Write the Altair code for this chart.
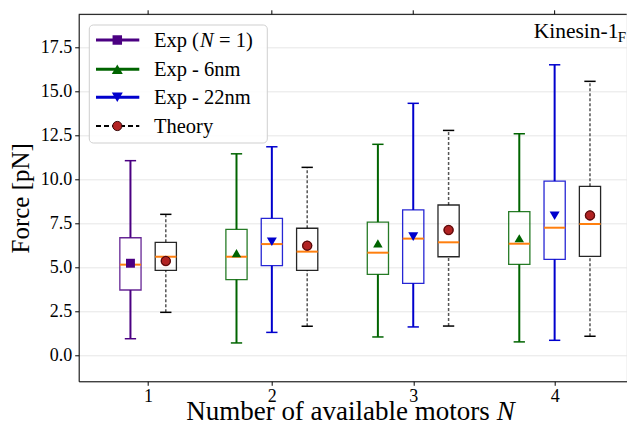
import altair as alt
import pandas as pd

# ---------------- data ----------------
series_names = ["exp1", "6nm", "22nm", "theory"]
legend_labels = ["Exp (", "Exp - 6nm", "Exp - 22nm", "Theory"]
series_colors = ["#4b0082", "#006400", "#0000cd", "#000000"]
mean_colors = ["#4b0082", "#006400", "#0000cd", "#b22222"]
mean_shapes = ["square", "triangle-up", "triangle-down", "circle"]
mean_sizes = [80, 110, 110, 80]

box_series = ["exp1", "theory", "6nm", "22nm", "theory", "6nm", "22nm", "theory", "6nm", "22nm", "theory"]
box_pos = [1.0, 1.25, 1.75, 2.0, 2.25, 2.75, 3.0, 3.25, 3.75, 4.0, 4.25]
whis_lo = [0.94, 2.44, 0.70, 1.30, 1.65, 1.04, 1.61, 1.66, 0.76, 0.85, 1.08]
q1 = [3.71, 4.83, 4.30, 5.09, 4.83, 4.60, 4.09, 5.60, 5.17, 5.45, 5.62]
med = [5.15, 5.60, 5.60, 6.32, 5.89, 5.83, 6.63, 6.42, 6.34, 7.25, 7.46]
q3 = [6.68, 6.42, 7.16, 7.78, 7.22, 7.57, 8.26, 8.54, 8.16, 9.90, 9.60]
whis_hi = [11.06, 8.01, 11.45, 11.85, 10.68, 11.99, 14.32, 12.78, 12.59, 16.51, 15.57]
mean = [5.23, 5.36, 5.80, 6.45, 6.23, 6.36, 6.74, 7.12, 6.65, 7.93, 7.95]

x_tick_values = [1.125, 2, 3, 4]
y_tick_values = [0, 2.5, 5, 7.5, 10, 12.5, 15, 17.5]

df = pd.DataFrame({
    "series": box_series, "pos": box_pos, "lo": whis_lo, "q1": q1,
    "med": med, "q3": q3, "hi": whis_hi, "mean": mean,
})

FONT = "Liberation Serif"
W, H = 548, 367
BOX_HALF = 0.075
CAP_HALF = 0.04

xscale = alt.Scale(domain=[0.634, 4.5096], nice=False, zero=False)
yscale = alt.Scale(domain=[-1.48, 19.38], nice=False, zero=False)
color_scale = alt.Scale(domain=series_names, range=series_colors)

base = alt.Chart(df).transform_calculate(
    xl=f"datum.pos - {BOX_HALF}", xr=f"datum.pos + {BOX_HALF}",
    cl=f"datum.pos - {CAP_HALF}", cr=f"datum.pos + {CAP_HALF}",
)

x_enc = alt.X("pos:Q", scale=xscale, axis=alt.Axis(
    values=x_tick_values, format="d", title=None, grid=False, domain=True,
    domainColor="black", domainWidth=1,
    tickSize=4, tickColor="black", labelPadding=2, labelFontSize=18,
    labelColor="black", labelFont=FONT))
y_axis = alt.Axis(
    values=y_tick_values, format=".1f", title="Force [pN]", grid=True,
    gridColor="#e6e6e6", gridWidth=1, domain=True, domainColor="black",
    domainWidth=1, tickSize=4,
    tickColor="black", labelPadding=3, labelFontSize=18, labelColor="black",
    labelFont=FONT, titleFont=FONT, titleFontSize=25, titleFontWeight="normal",
    titleColor="black", titleX=-50, titleY=H / 2, titleAngle=270,
    titleBaseline="alphabetic", titleAlign="center")

exp_only = "datum.series != 'theory'"
th_only = "datum.series == 'theory'"

# grid / axes carrier (invisible)
axes_layer = base.mark_point(opacity=0).encode(x=x_enc, y=alt.Y("mean:Q", scale=yscale, axis=y_axis))

# whiskers
wh_exp_lo = base.transform_filter(exp_only).mark_rule(strokeWidth=2).encode(
    x="pos:Q", y="lo:Q", y2="q1:Q", color=alt.Color("series:N", scale=color_scale, legend=None))
wh_exp_hi = base.transform_filter(exp_only).mark_rule(strokeWidth=2).encode(
    x="pos:Q", y="q3:Q", y2="hi:Q", color=alt.Color("series:N", scale=color_scale, legend=None))
wh_th_lo = base.transform_filter(th_only).mark_rule(strokeWidth=1.5, strokeDash=[3, 2], color="#555555").encode(
    x="pos:Q", y="lo:Q", y2="q1:Q")
wh_th_hi = base.transform_filter(th_only).mark_rule(strokeWidth=1.5, strokeDash=[3, 2], color="#555555").encode(
    x="pos:Q", y="q3:Q", y2="hi:Q")

# caps
cap_lo = base.mark_rule(strokeWidth=1.5).encode(
    x="cl:Q", x2="cr:Q", y="lo:Q", color=alt.Color("series:N", scale=color_scale, legend=None))
cap_hi = base.mark_rule(strokeWidth=1.5).encode(
    x="cl:Q", x2="cr:Q", y="hi:Q", color=alt.Color("series:N", scale=color_scale, legend=None))

# boxes
boxes = base.mark_rect(fill=None, strokeWidth=1.3, strokeOpacity=0.85).encode(
    x="xl:Q", x2="xr:Q", y="q1:Q", y2="q3:Q",
    stroke=alt.Stroke("series:N", scale=color_scale, legend=None))

# medians
medians = base.mark_rule(strokeWidth=2, color="#ff7f0e").encode(
    x="xl:Q", x2="xr:Q", y="med:Q")

# means (fill channel has its own scale)
means = base.mark_point(filled=True, opacity=1, strokeWidth=0).encode(
    x="pos:Q", y="mean:Q",
    fill=alt.Fill("series:N", scale=alt.Scale(domain=series_names, range=mean_colors), legend=None),
    shape=alt.Shape("series:N", scale=alt.Scale(domain=series_names, range=mean_shapes), legend=None),
    size=alt.Size("series:N", scale=alt.Scale(domain=series_names, range=mean_sizes), legend=None))
means_edge = base.transform_filter(th_only).mark_point(
    filled=False, shape="circle", size=80, color="#3a0a0a", strokeWidth=1, opacity=1).encode(
    x="pos:Q", y="mean:Q")

# top ticks and top border
top_ticks = alt.Chart(pd.DataFrame({"t": x_tick_values})).mark_rule(color="black", strokeWidth=1).encode(
    x=alt.X("t:Q", scale=xscale), y=alt.value(0), y2=alt.value(-4))
one = pd.DataFrame({"a": [0]})
top_border = alt.Chart(one).mark_rule(color="black", strokeWidth=1).encode(
    x=alt.value(0), x2=alt.value(W), y=alt.value(0))

# annotation
kin = alt.Chart(one).mark_text(text="Kinesin-1", font=FONT, fontSize=21.5, align="left",
                               baseline="alphabetic", color="black").encode(
    x=alt.value(455), y=alt.value(24))
kin_sub = alt.Chart(one).mark_text(text="F", font=FONT, fontSize=15, align="left",
                                   baseline="alphabetic", color="black").encode(
    x=alt.value(539), y=alt.value(28))

# x title
XT_FS = 27
xt_main = alt.Chart(one).mark_text(text="Number of available motors", font=FONT, fontSize=XT_FS,
                                   align="right", baseline="alphabetic", color="black").encode(
    x=alt.value(411), y=alt.value(406.2))
xt_n = alt.Chart(one).mark_text(text="N", font=FONT, fontSize=XT_FS, fontStyle="italic",
                                align="left", baseline="alphabetic", color="black").encode(
    x=alt.value(418), y=alt.value(406.2))

# legend
leg_box = alt.Chart(one).mark_rect(fill="white", fillOpacity=0.85, stroke="#cfcfcf",
                                   strokeWidth=1, cornerRadius=4).encode(
    x=alt.value(10.6), x2=alt.value(188.6), y=alt.value(10.7), y2=alt.value(128.7))
leg_layers = [leg_box]
row_y = [25.7, 55.0, 83.0, 111.7]
LEG_FS = 20.5
for i in range(4):
    ly = row_y[i]
    if series_names[i] == "theory":
        line = alt.Chart(one).mark_rule(color="black", strokeWidth=2, strokeDash=[5, 3]).encode(
            x=alt.value(17.3), x2=alt.value(60.6), y=alt.value(ly))
        mk = alt.Chart(one).mark_point(filled=True, shape="circle", size=85, fill=mean_colors[i],
                                       stroke="#3a0a0a", strokeWidth=1, opacity=1).encode(
            x=alt.value(38.6), y=alt.value(ly))
    else:
        line = alt.Chart(one).mark_rule(color=series_colors[i], strokeWidth=3).encode(
            x=alt.value(17.3), x2=alt.value(60.6), y=alt.value(ly))
        mk = alt.Chart(one).mark_point(filled=True, shape=mean_shapes[i], size=mean_sizes[i] + 10,
                                       color=mean_colors[i], opacity=1).encode(
            x=alt.value(38.6), y=alt.value(ly))
    txt = alt.Chart(one).mark_text(text=legend_labels[i], font=FONT, fontSize=LEG_FS, align="left",
                                   baseline="middle", color="black").encode(
        x=alt.value(75.3), y=alt.value(ly + 1))
    leg_layers += [line, mk, txt]
# italic N and rest for first entry
leg_layers.append(alt.Chart(one).mark_text(text="N", font=FONT, fontSize=LEG_FS, fontStyle="italic",
                                           align="left", baseline="middle", color="black").encode(
    x=alt.value(75.3 + 46), y=alt.value(row_y[0] + 1)))
leg_layers.append(alt.Chart(one).mark_text(text="= 1)", font=FONT, fontSize=LEG_FS,
                                           align="left", baseline="middle", color="black").encode(
    x=alt.value(75.3 + 46 + 14 + 5), y=alt.value(row_y[0] + 1)))

chart = alt.layer(
    axes_layer, wh_exp_lo, wh_exp_hi, wh_th_lo, wh_th_hi, cap_lo, cap_hi,
    boxes, medians, means, means_edge, top_ticks, top_border, kin, kin_sub, xt_main, xt_n,
    *leg_layers
).properties(
    width=W, height=H,
    padding={"left": 70.7, "top": 6.3, "right": 0, "bottom": 52},
    autosize=alt.AutoSizeParams(type="none"),
).configure_view(stroke=None).configure(font=FONT)

chart.save("out.html", embed_options={"renderer": "svg", "actions": False})
